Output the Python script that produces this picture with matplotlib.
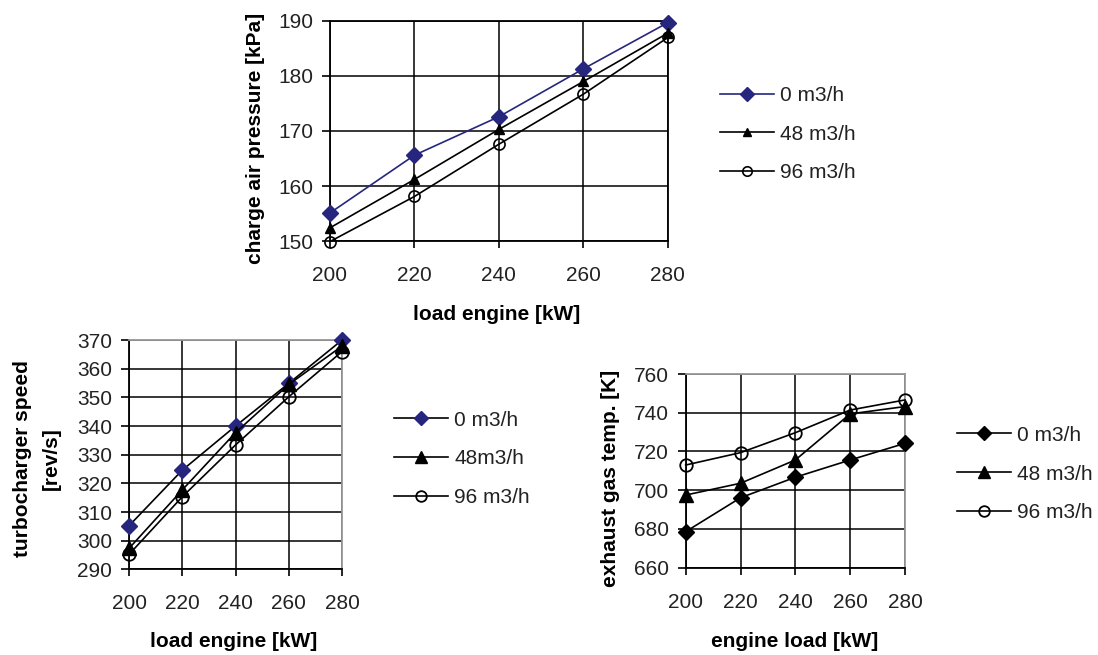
import matplotlib
matplotlib.use("Agg")
import matplotlib.pyplot as plt

plt.rcParams['font.family'] = ['Liberation Sans', 'DejaVu Sans']

load = [200, 220, 240, 260, 280]
series_labels = ['0 m3/h', '48 m3/h', '96 m3/h']
speed_labels = ['0 m3/h', '48m3/h', '96 m3/h']

# charge air pressure [kPa]
pressure_0 = [155.1, 165.6, 172.6, 181.3, 189.7]
pressure_48 = [152.4, 161.2, 170.3, 179.0, 187.8]
pressure_96 = [149.9, 158.1, 167.6, 176.7, 187.0]

# turbocharger speed [rev/s]
speed_0 = [305.2, 324.6, 340.0, 354.9, 370.0]
speed_48 = [297.3, 317.7, 337.7, 354.5, 367.9]
speed_96 = [295.2, 315.3, 333.4, 350.2, 366.0]

# exhaust gas temp. [K]
temp_0 = [678.6, 696.1, 706.7, 715.6, 724.2]
temp_48 = [697.5, 703.6, 715.6, 739.4, 743.2]
temp_96 = [713.0, 719.4, 729.7, 741.4, 746.6]

navy = '#26267e'
fs = 15

fig = plt.figure(figsize=(10.98, 6.55), dpi=100)


def style_axes(ax, ylim, yticks, edge='black'):
    ax.set_xlim(200, 280)
    ax.set_ylim(*ylim)
    ax.set_xticks(load)
    ax.set_yticks(yticks)
    ax.grid(True, color='black', linewidth=1.1)
    ax.set_axisbelow(True)
    for s in ['left', 'bottom']:
        ax.spines[s].set_color('black')
        ax.spines[s].set_linewidth(1.3)
    for s in ['top', 'right']:
        ax.spines[s].set_color(edge)
        ax.spines[s].set_linewidth(1.3)
    ax.tick_params(axis='y', direction='out', length=6, width=1.2, pad=6, labelsize=fs,
                   labelcolor='#222222')
    ax.tick_params(axis='x', direction='out', length=5, width=1.2, pad=13, labelsize=fs,
                   labelcolor='#222222')
    for ln in ax.get_lines():
        ln.set_clip_on(False)
        ln.set_zorder(5)


def add_legend(ax, anchor):
    fig.legend(handles=ax.get_lines(), loc='upper left', bbox_to_anchor=anchor,
               frameon=False, fontsize=fs, borderpad=0, borderaxespad=0, handlelength=2.6,
               handletextpad=0.3, labelspacing=0.95, markerscale=0.85, labelcolor='#222222')


# top chart
ax1 = fig.add_axes([0.3005, 0.632, 0.3078, 0.336])
ax1.plot(load, pressure_0, color=navy, lw=1.2, marker='D', ms=8, label=series_labels[0])
ax1.plot(load, pressure_48, color='black', lw=1.2, marker='^', ms=7, label=series_labels[1])
ax1.plot(load, pressure_96, color='black', lw=1.2, marker='o', ms=8, mfc='none', mew=1.2,
         label=series_labels[2])
style_axes(ax1, (150, 190), [150, 160, 170, 180, 190])
ax1.set_xlabel('load engine [kW]', fontsize=fs, fontweight='bold', va='center')
ax1.xaxis.set_label_coords(0.494, -0.336)
ax1.set_ylabel('charge air pressure [kPa]', fontsize=fs, fontweight='bold', va='center')
ax1.yaxis.set_label_coords(-0.22, 0.468)
add_legend(ax1, (0.6557, 0.869))

# bottom left chart
ax2 = fig.add_axes([0.1175, 0.1308, 0.194, 0.350])
ax2.plot(load, speed_0, color='black', lw=1.2, marker='D', ms=8, mfc=navy, mec=navy,
         label=speed_labels[0])
ax2.plot(load, speed_48, color='black', lw=1.2, marker='^', ms=10, label=speed_labels[1])
ax2.plot(load, speed_96, color='black', lw=1.2, marker='o', ms=9, mfc='none', mew=1.3,
         label=speed_labels[2])
style_axes(ax2, (290, 370), list(range(290, 371, 10)), edge='#999999')
ax2.set_xlabel('load engine [kW]', fontsize=fs, fontweight='bold', va='center')
ax2.xaxis.set_label_coords(0.493, -0.316)
ax2.set_ylabel('turbocharger speed\n[rev/s]', fontsize=fs, fontweight='bold', va='center',
               linespacing=1.6)
ax2.yaxis.set_label_coords(-0.432, 0.485)
add_legend(ax2, (0.3588, 0.373))

# bottom right chart
ax3 = fig.add_axes([0.6245, 0.1333, 0.1997, 0.2957])
ax3.plot(load, temp_0, color='black', lw=1.2, marker='D', ms=8, label=series_labels[0])
ax3.plot(load, temp_48, color='black', lw=1.2, marker='^', ms=10, label=series_labels[1])
ax3.plot(load, temp_96, color='black', lw=1.2, marker='o', ms=9, mfc='none', mew=1.3,
         label=series_labels[2])
style_axes(ax3, (660, 760), list(range(660, 761, 20)), edge='#999999')
ax3.set_xlabel('engine load [kW]', fontsize=fs, fontweight='bold', va='center')
ax3.xaxis.set_label_coords(0.498, -0.382)
ax3.set_ylabel('exhaust gas temp. [K]', fontsize=fs, fontweight='bold', va='center')
ax3.yaxis.set_label_coords(-0.345, 0.463)
add_legend(ax3, (0.8713, 0.350))

fig.savefig('out.png', dpi=100)
